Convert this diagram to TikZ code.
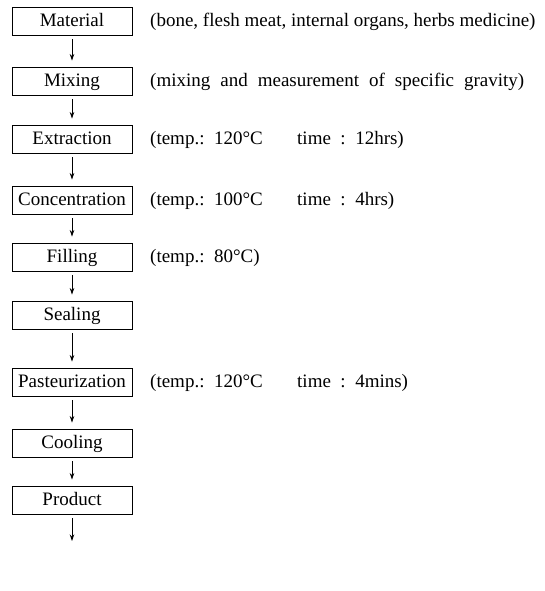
\documentclass[tikz,border=0pt]{standalone}
\usepackage{fontspec}
\setmainfont{Liberation Serif}
\usetikzlibrary{arrows.meta}
\begin{document}
\begin{tikzpicture}[x=1pt,y=-1pt,
  font=\fontsize{19}{22}\selectfont,
  stepbox/.style={draw, line width=0.9pt, minimum width=120pt, minimum height=28pt, inner sep=0pt, text height=13pt, text depth=2pt},
  note/.style={anchor=base west, inner sep=0pt, yshift=-5.5pt},
  flow/.style={-{Stealth[length=6.5pt,width=4.5pt]}, line width=0.8pt, shorten <=4pt, shorten >=6pt}]
\useasboundingbox (0,0) rectangle (544,591);
\node[stepbox] (s1) at (72,21)  {Material};
\node[stepbox] (s2) at (72,81)  {Mixing};
\node[stepbox] (s3) at (72,139) {Extraction};
\node[stepbox] (s4) at (72,200) {Concentration};
\node[stepbox] (s5) at (72,257) {Filling};
\node[stepbox] (s6) at (72,315) {Sealing};
\node[stepbox] (s7) at (72,382) {Pasteurization};
\node[stepbox] (s8) at (72,443) {Cooling};
\node[stepbox] (s9) at (72,500) {Product};
\coordinate (fin) at (72,541);

\draw[flow] (s1) -- (s2);
\draw[flow] (s2) -- (s3);
\draw[flow] (s3) -- (s4);
\draw[flow] (s4) -- (s5);
\draw[flow] (s5) -- (s6);
\draw[flow] (s6) -- (s7);
\draw[flow] (s7) -- (s8);
\draw[flow] (s8) -- (s9);
\draw[flow, shorten >=0pt] (s9) -- (fin);

\node[note] (n1) at (150,21)  {(bone, flesh meat, internal organs, herbs medicine)};
\node[note] (n2) at (150,81)  {\makebox[374pt][s]{(mixing and measurement of specific gravity)}};
\node[note] (n3) at (150,139) {\makebox[147pt][l]{(temp.:\ \ 120°C}time\ \ :\ \ 12hrs)};
\node[note] (n4) at (150,200) {\makebox[147pt][l]{(temp.:\ \ 100°C}time\ \ :\ \ 4hrs)};
\node[note] (n5) at (150,257) {(temp.:\ \ 80°C)};
\node[note] (n7) at (150,382) {\makebox[147pt][l]{(temp.:\ \ 120°C}time\ \ :\ \ 4mins)};
\end{tikzpicture}
\end{document}
